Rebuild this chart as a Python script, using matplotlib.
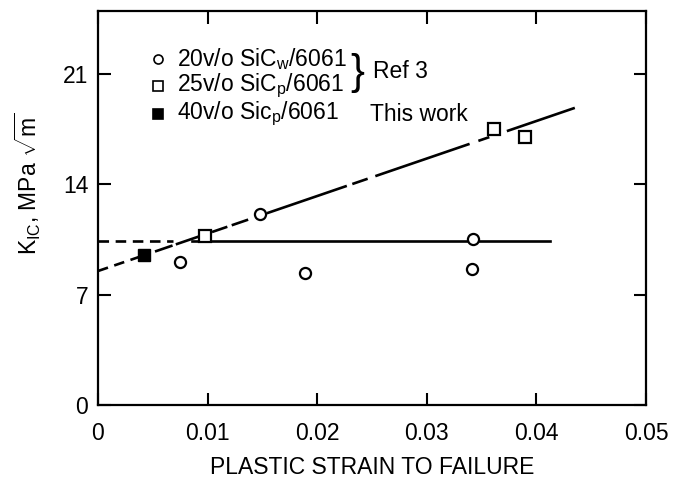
import numpy as np
import matplotlib
matplotlib.use('Agg')
import matplotlib.pyplot as plt

plt.rcParams['font.family'] = ['Liberation Sans', 'DejaVu Sans']
plt.rcParams['mathtext.fontset'] = 'custom'
plt.rcParams['mathtext.rm'] = 'Liberation Sans'
plt.rcParams['mathtext.it'] = 'Liberation Sans'

# data
whisker_x = [0.0075, 0.0148, 0.0189, 0.0342, 0.0341]
whisker_y = [9.1, 12.1, 8.4, 10.55, 8.65]
partic_x = [0.0098, 0.0361, 0.0390]
partic_y = [10.7, 17.5, 17.0]
work_x = [0.0042]
work_y = [9.5]

# sloped fit line  y = a + b*x, drawn in pieces like the original
fit_a = 8.5
fit_b = 238.0
fit_dashed = [(0.0, 0.0037)]
fit_solid = [(0.0052, 0.0068), (0.0071, 0.0094), (0.0104, 0.0118), (0.0122, 0.0137),
             (0.0154, 0.0227), (0.0232, 0.0246), (0.0253, 0.0339),
             (0.0347, 0.0357), (0.0373, 0.0435)]

# horizontal line
flat_y = 10.4
flat_dashed = (0.0, 0.0068)
flat_solid = (0.0086, 0.0412)

xticks = [0, 0.01, 0.02, 0.03, 0.04, 0.05]
xticklabels = ['0', '0.01', '0.02', '0.03', '0.04', '0.05']
yticks = [0, 7, 14, 21]

FS = 16.5


def main():
    fig = plt.figure(figsize=(6.73, 4.91), dpi=100)
    ax = fig.add_axes([0.1456, 0.1752, 0.8144, 0.8024])

    lw = 1.9
    for x0, x1 in fit_dashed:
        xs = np.array([x0, x1])
        ax.plot(xs, fit_a + fit_b * xs, color='black', lw=lw, dashes=(4, 2.5))
    for x0, x1 in fit_solid:
        xs = np.array([x0, x1])
        ax.plot(xs, fit_a + fit_b * xs, color='black', lw=lw, solid_capstyle='butt')

    ax.plot(flat_dashed, [flat_y, flat_y], color='black', lw=lw, dashes=(4, 2.5))
    ax.plot(flat_solid, [flat_y, flat_y], color='black', lw=lw)

    ax.plot(whisker_x, whisker_y, 'o', ms=8, mfc='white', mec='black', mew=1.6, ls='none')
    ax.plot(partic_x, partic_y, 's', ms=8, mfc='white', mec='black', mew=1.6, ls='none')
    ax.plot(work_x, work_y, 's', ms=8, mfc='black', mec='black', ls='none')

    ax.set_xlim(0, 0.05)
    ax.set_ylim(0, 25)
    ax.set_xticks(xticks)
    ax.set_xticklabels(xticklabels)
    ax.set_yticks(yticks)
    ax.tick_params(direction='in', length=9, width=1.5, labelsize=FS,
                   top=True, right=True)
    ax.tick_params(axis='x', pad=12)
    ax.tick_params(axis='y', pad=7)
    for s in ax.spines.values():
        s.set_linewidth(1.6)

    ax.set_xlabel('PLASTIC STRAIN TO FAILURE', fontsize=FS, labelpad=8)
    ax.set_ylabel(r'K$_{\mathrm{IC}}$, MPa $\sqrt{\mathrm{m}}$', fontsize=FS)
    ax.yaxis.set_label_coords(-0.10, 0.56)

    # legend drawn by hand, like the original
    rows = [(21.95, 'o', 'white', r'20v/o SiC$_{\mathrm{w}}$/6061'),
            (20.25, 's', 'white', r'25v/o SiC$_{\mathrm{p}}$/6061'),
            (18.45, 's', 'black', r'40v/o Sic$_{\mathrm{p}}$/6061')]
    for ly, m, fc, label in rows:
        ax.plot([0.0055], [ly], m, ms=6.5, mfc=fc, mec='black', mew=1.2, clip_on=False)
        ax.text(0.0072, ly, label, fontsize=FS, va='center', ha='left')
    ax.text(0.0230, 21.05, '}', fontsize=30, va='center', ha='left')
    ax.text(0.0251, 21.15, 'Ref 3', fontsize=FS, va='center', ha='left')
    ax.text(0.0248, 18.45, 'This work', fontsize=FS, va='center', ha='left')

    fig.savefig('out.png', dpi=100)


if __name__ == "__main__":
    main()
